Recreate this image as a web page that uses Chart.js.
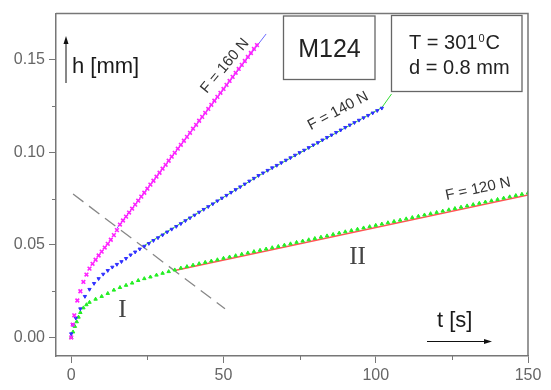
<!DOCTYPE html>
<html>
<head>
<meta charset="utf-8">
<script src="https://cdn.jsdelivr.net/npm/chart.js@4.4.1/dist/chart.umd.min.js"></script>
<style>
  html, body { margin: 0; padding: 0; background: #fff; }
  #myChart { display: block; }
</style>
</head>
<body>
<canvas id="myChart" width="551" height="390"></canvas>
<script>
// Datos: t [s] y h [mm]
const t160 = [0, 0.5, 1, 2, 3, 4, 5, 6, 7, 8, 9, 10, 11, 12, 13, 14, 15, 16, 17, 18, 19, 20,
  21, 22, 23, 24, 25, 26, 27, 28, 29, 30, 31, 32, 33, 34, 35, 36, 37, 38, 39, 40,
  41, 42, 43, 44, 45, 46, 47, 48, 49, 50, 51, 52, 53, 54, 55, 56, 57, 58, 59, 60, 61];
const h160 = [0, 0.007, 0.012, 0.020, 0.025, 0.030, 0.034, 0.0372, 0.0398, 0.0420, 0.0443, 0.0464,
  0.0486, 0.0506, 0.0528, 0.0553, 0.0580, 0.0610, 0.0632, 0.0653, 0.0675, 0.0696, 0.0718,
  0.0739, 0.0761, 0.0782, 0.0804, 0.0826, 0.0847, 0.0869, 0.0890, 0.0912, 0.0933, 0.0955,
  0.0977, 0.0998, 0.1020, 0.1041, 0.1063, 0.1084, 0.1106, 0.1128, 0.1149, 0.1171, 0.1192,
  0.1214, 0.1235, 0.1257, 0.1279, 0.1300, 0.1322, 0.1343, 0.1365, 0.1386, 0.1408, 0.1430,
  0.1451, 0.1473, 0.1494, 0.1516, 0.1537, 0.1559, 0.1580];

const t140 = [0, 0.5, 1.5, 3, 4.5, 6, 7.5, 9, 10.5, 12, 13.5, 15, 16.5, 18, 19.5, 21, 22.5, 24,
  25.5, 27, 28.5, 30, 31.5, 33, 34.5, 36, 37.5, 39, 40.5, 42, 43.5, 45, 46.5, 48, 49.5, 51,
  52.5, 54, 55.5, 57, 58.5, 60, 61.5, 63, 64.5, 66, 67.5, 69, 70.5, 72, 73.5, 75, 76.5, 78,
  79.5, 81, 82.5, 84, 85.5, 87, 88.5, 90, 91.5, 93, 94.5, 96, 97.5, 99, 100.5, 102];
const h140 = [0.002, 0.007, 0.0105, 0.0155, 0.0222, 0.0260, 0.0292, 0.0318, 0.0342, 0.0362,
  0.0380, 0.0395, 0.0410, 0.0427, 0.0446, 0.0462, 0.0478, 0.0493,
  0.0508, 0.0524, 0.0539, 0.0554, 0.0570, 0.0585, 0.0600, 0.0615, 0.0631, 0.0646,
  0.0661, 0.0677, 0.0692, 0.0707, 0.0722, 0.0738, 0.0753, 0.0768, 0.0784, 0.0799,
  0.0814, 0.0829, 0.0845, 0.0860, 0.0875,
  0.0889, 0.0903, 0.0917, 0.0930, 0.0944, 0.0958, 0.0971, 0.0985, 0.0999, 0.1012,
  0.1026, 0.1040, 0.1053, 0.1067, 0.1081, 0.1094, 0.1108, 0.1121, 0.1135, 0.1148,
  0.1161, 0.1174, 0.1187, 0.1200, 0.1213, 0.1226, 0.1239];

const t120 = [0, 0.6, 1.2, 1.8, 2.4, 3, 4, 5, 6, 8, 10, 12, 14, 16, 18, 20, 22, 24, 26, 28, 30,
  32, 34, 36, 38, 40, 42, 44, 46, 48, 50, 52, 54, 56, 58, 60, 62, 64, 66, 68, 70, 72, 74,
  76, 78, 80, 82, 84, 86, 88, 90, 92, 94, 96, 98, 100, 102, 104, 106, 108, 110, 112, 114,
  116, 118, 120, 122, 124, 126, 128, 130, 132, 134, 136, 138, 140, 142, 144, 146, 148, 150];
const h120 = [0, 0.0030, 0.0060, 0.0085, 0.0110, 0.0135, 0.0160, 0.0177, 0.0190,
  0.0207, 0.0222, 0.0238, 0.0256, 0.0270, 0.0282, 0.0294, 0.0308, 0.0318, 0.0327,
  0.0337, 0.0347, 0.0356, 0.0365, 0.0375, 0.0383, 0.0391, 0.0399, 0.0406, 0.0413,
  0.0420, 0.0428,
  0.0435, 0.0442, 0.0450, 0.0457, 0.0464, 0.0471, 0.0478, 0.0485, 0.0492, 0.0499,
  0.0506, 0.0514, 0.0521, 0.0528, 0.0535, 0.0542, 0.0549, 0.0557, 0.0564, 0.0571,
  0.0578, 0.0585, 0.0592, 0.0599, 0.0606, 0.0613, 0.0620, 0.0627, 0.0634, 0.0641,
  0.0648, 0.0655, 0.0662, 0.0669, 0.0676, 0.0683, 0.0690, 0.0697, 0.0704, 0.0711,
  0.0718, 0.0725, 0.0732, 0.0739, 0.0746, 0.0753, 0.0760, 0.0767, 0.0774, 0.0781];

// Rectas de ajuste (zona II) y linea de separacion I/II
const fit160T = [15, 64];
const fit160H = [0.0590, 0.1640];
const fit140T = [24, 62, 102, 105.2];
const fit140H = [0.0497, 0.0878, 0.1242, 0.1316];
const fit120T = [34, 150];
const fit120H = [0.0362, 0.0770];
const limiteT = [0.6, 50.5];
const limiteH = [0.0775, 0.0155];

// Marcas de los ejes
const xTicks = [0, 50, 100, 150];
const xMinor = [25, 75, 125];
const yTicks = [0, 0.05, 0.10, 0.15];
const yMinor = [0.025, 0.075, 0.125];

const pares = (ts, hs) => ts.map((t, i) => ({x: t, y: hs[i]}));

const GRIS = "#777";
const SANS = "'Liberation Sans', Arial, sans-serif";
const SERIF = "'Liberation Serif', 'Times New Roman', serif";

const decoracion = {
  id: "decoracion",
  afterDraw(chart) {
    const ctx = chart.ctx;
    const a = chart.chartArea;
    const sx = chart.scales.x, sy = chart.scales.y;
    ctx.save();
    // marco superior y derecho
    ctx.strokeStyle = GRIS;
    ctx.lineWidth = 1.5;
    ctx.beginPath();
    ctx.moveTo(a.left, a.top);
    ctx.lineTo(a.right, a.top);
    ctx.lineTo(a.right, a.bottom);
    ctx.stroke();
    // marcas menores
    ctx.lineWidth = 1;
    ctx.beginPath();
    xMinor.forEach(v => {
      const px = Math.round(sx.getPixelForValue(v)) + 0.5;
      ctx.moveTo(px, a.bottom);
      ctx.lineTo(px, a.bottom + 4);
    });
    yMinor.forEach(v => {
      const py = Math.round(sy.getPixelForValue(v)) + 0.5;
      ctx.moveTo(a.left - 4, py);
      ctx.lineTo(a.left, py);
    });
    ctx.stroke();

    // flechas de los ejes
    ctx.strokeStyle = "#111";
    ctx.fillStyle = "#111";
    ctx.lineWidth = 1;
    ctx.beginPath();
    ctx.moveTo(66, 83); ctx.lineTo(66, 42);
    ctx.moveTo(427, 341.5); ctx.lineTo(486, 341.5);
    ctx.stroke();
    ctx.beginPath();
    ctx.moveTo(66, 36); ctx.lineTo(63.5, 44); ctx.lineTo(68.5, 44); ctx.closePath();
    ctx.moveTo(492, 341.5); ctx.lineTo(484, 339); ctx.lineTo(484, 344); ctx.closePath();
    ctx.fill();

    ctx.fillStyle = "#1a1a1a";
    ctx.textAlign = "left";
    ctx.textBaseline = "alphabetic";
    ctx.font = "22px " + SANS;
    ctx.fillText("h [mm]", 72, 73);
    ctx.fillText("t [s]", 437, 327);

    // recuadros
    ctx.strokeStyle = "#666";
    ctx.lineWidth = 1.3;
    ctx.strokeRect(283.5, 16, 91.5, 63.5);
    ctx.strokeRect(391.5, 15.5, 130.5, 76);
    ctx.fillStyle = "#222";
    ctx.font = "25px " + SANS;
    ctx.textAlign = "center";
    ctx.fillText("M124", 329.5, 57);
    ctx.textAlign = "left";
    ctx.font = "20px " + SANS;
    ctx.fillText("T = 301", 409, 49);
    let w = ctx.measureText("T = 301").width;
    ctx.font = "11px " + SANS;
    ctx.fillText("0", 409 + w + 1, 42);
    ctx.font = "20px " + SANS;
    ctx.fillText("C", 409 + w + 8, 49);
    ctx.fillText("d = 0.8 mm", 409, 74);

    // etiquetas de las curvas
    ctx.fillStyle = "#333";
    ctx.font = "15px " + SANS;
    ctx.textAlign = "center";
    ctx.textBaseline = "middle";
    [["F = 160 N", 225, 66, 50], ["F = 140 N", 338, 111, 28], ["F = 120 N", 478, 189, 12]]
      .forEach(([txt, cx, cy, ang]) => {
        ctx.save();
        ctx.translate(cx, cy);
        ctx.rotate(-ang * Math.PI / 180);
        ctx.fillText(txt, 0, 0);
        ctx.restore();
      });

    // zonas I y II
    ctx.fillStyle = "#444";
    ctx.font = "25px " + SERIF;
    ctx.fillText("I", 122.5, 310);
    ctx.fillText("II", 357.5, 257);
    ctx.restore();
  }
};

const puntos = (label, ts, hs, color, estilo, rot, radio, ancho) => ({
  label: label,
  data: pares(ts, hs),
  showLine: false,
  pointStyle: estilo,
  rotation: rot,
  pointRadius: radio,
  pointBorderWidth: ancho,
  pointBackgroundColor: color,
  pointBorderColor: color,
  order: 1
});

const recta = (label, ts, hs, color, ancho, dash) => ({
  label: label,
  data: pares(ts, hs),
  showLine: true,
  borderColor: color,
  borderWidth: ancho,
  borderDash: dash || [],
  pointRadius: 0,
  fill: false,
  tension: 0,
  order: 5
});

const ctx = document.getElementById("myChart").getContext("2d");
const myChart = new Chart(ctx, {
  type: "scatter",
  data: {
    datasets: [
      puntos("F = 160 N", t160, h160, "#ff22ff", "crossRot", 0, 2.6, 1.6),
      puntos("F = 140 N", t140, h140, "#3030ff", "triangle", 180, 1.9, 1),
      puntos("F = 120 N", t120, h120, "#22ee22", "triangle", 0, 2, 1),
      recta("ajuste 160", fit160T, fit160H, "#6a6aff", 1),
      recta("ajuste 140", fit140T, fit140H, "#33dd33", 1),
      recta("ajuste 120", fit120T, fit120H, "#ff5555", 1.5),
      recta("limite I/II", limiteT, limiteH, "#888", 1.3, [13, 7])
    ]
  },
  options: {
    responsive: false,
    animation: false,
    layout: {padding: {top: 13, right: 23, left: 0, bottom: 0}},
    plugins: {legend: {display: false}, tooltip: {enabled: false}},
    scales: {
      x: {
        type: "linear",
        min: -5,
        max: 150,
        afterBuildTicks: s => { s.ticks = xTicks.map(v => ({value: v})); },
        afterFit: s => { s.height = 34; },
        ticks: {color: "#666", font: {size: 16, family: SANS}, padding: 3, maxRotation: 0,
          callback: v => String(v)},
        grid: {drawOnChartArea: false, tickLength: 7, color: GRIS, tickColor: GRIS},
        border: {color: GRIS, width: 1.5}
      },
      y: {
        type: "linear",
        min: -0.01,
        max: 0.175,
        afterBuildTicks: s => { s.ticks = yTicks.map(v => ({value: v})); },
        afterFit: s => { s.width = 56; },
        ticks: {color: "#666", font: {size: 16, family: SANS}, padding: 4,
          callback: v => v.toFixed(2)},
        grid: {drawOnChartArea: false, tickLength: 7, color: GRIS, tickColor: GRIS},
        border: {color: GRIS, width: 1.5}
      }
    }
  },
  plugins: [decoracion]
});
</script>
</body>
</html>
